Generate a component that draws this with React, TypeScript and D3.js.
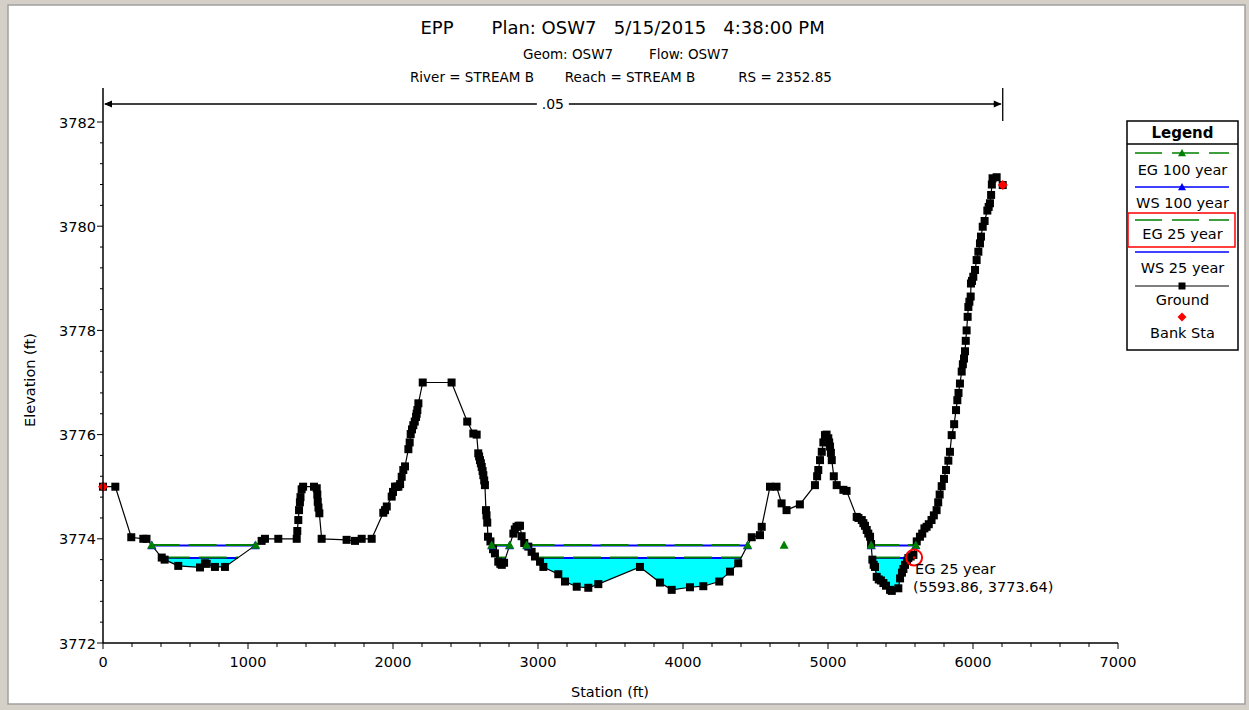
import React from "react";
import * as d3 from "d3";

// ---------- DATA ----------
const groundStation = [
  0, 85, 195, 278, 300, 405, 425, 519, 669, 703, 715, 772, 841, 1094, 1117, 1209, 1336, 1340, 1347, 1352,
  1358, 1362, 1370, 1380, 1455, 1474, 1478, 1481, 1486, 1492, 1508, 1680, 1738, 1784, 1853, 1933, 1945,
  1957, 1991, 2000, 2014, 2025, 2037, 2049, 2060, 2071, 2083, 2106, 2115, 2122, 2131, 2140, 2150, 2159,
  2163, 2168, 2175, 2205, 2404, 2512, 2554, 2577, 2588, 2594, 2600, 2606, 2612, 2618, 2623, 2629, 2634,
  2641, 2645, 2650, 2655, 2672, 2690, 2703, 2726, 2740, 2750, 2766, 2830, 2840, 2852, 2866, 2876, 2887,
  2905, 2933, 2956, 2979, 3014, 3037, 3140, 3186, 3267, 3347, 3416, 3703, 3841, 3922, 4048, 4140, 4250,
  4324, 4381, 4474, 4531, 4543, 4600, 4645, 4680, 4714, 4806, 4910, 4925, 4933, 4945, 4957, 4968, 4979,
  4990, 5002, 5008, 5014, 5020, 5026, 5040, 5060, 5106, 5128, 5198, 5210, 5233, 5244, 5255, 5267, 5278,
  5290, 5297, 5306, 5315, 5324, 5336, 5350, 5365, 5382, 5400, 5428, 5440, 5485, 5497, 5510, 5520, 5531,
  5545, 5554, 5570, 5589, 5612, 5634, 5650, 5665, 5680, 5695, 5714, 5730, 5749, 5760, 5770, 5784, 5800,
  5814, 5830, 5841, 5853, 5870, 5883, 5892, 5900, 5910, 5922, 5930, 5938, 5945, 5950, 5956, 5963, 5968,
  5975, 5984, 5986, 5993, 6002, 6014, 6025, 6037, 6048, 6055, 6067, 6080, 6099, 6108, 6117, 6125, 6130,
  6135, 6163, 6205,
];
const groundElev = [
  3775.0, 3775.0, 3774.03, 3774.0, 3774.0, 3773.64, 3773.6, 3773.48, 3773.45, 3773.53, 3773.52, 3773.46,
  3773.46, 3773.96, 3774.0, 3774.0, 3774.0, 3774.15, 3774.36, 3774.55, 3774.7, 3774.8, 3774.95, 3775.0,
  3775.0, 3774.97, 3774.85, 3774.71, 3774.6, 3774.49, 3774.0, 3773.98, 3773.96, 3774.0, 3774.0, 3774.5,
  3774.55, 3774.62, 3774.81, 3774.9, 3775.0, 3775.0, 3775.0, 3775.05, 3775.19, 3775.32, 3775.39, 3775.72,
  3775.85, 3776.01, 3776.1, 3776.18, 3776.25, 3776.34, 3776.4, 3776.47, 3776.6, 3777.0, 3777.0, 3776.25,
  3776.02, 3776.0, 3775.64, 3775.58, 3775.51, 3775.45, 3775.38, 3775.3, 3775.22, 3775.12, 3775.03,
  3774.55, 3774.45, 3774.31, 3774.04, 3773.95, 3773.8, 3773.72, 3773.56, 3773.52, 3773.5, 3773.54, 3774.1,
  3774.18, 3774.23, 3774.25, 3774.25, 3774.05, 3773.92, 3773.85, 3773.75, 3773.66, 3773.56, 3773.46,
  3773.32, 3773.18, 3773.08, 3773.06, 3773.13, 3773.46, 3773.16, 3773.02, 3773.07, 3773.09, 3773.18,
  3773.37, 3773.53, 3774.03, 3774.07, 3774.23, 3775.0, 3775.0, 3774.68, 3774.55, 3774.66, 3775.03, 3775.2,
  3775.32, 3775.51, 3775.67, 3775.85, 3775.99, 3776.0, 3775.93, 3775.85, 3775.77, 3775.65, 3775.51,
  3775.2, 3775.03, 3774.94, 3774.92, 3774.42, 3774.4, 3774.36, 3774.3, 3774.25, 3774.17, 3774.1, 3774.04,
  3773.9, 3773.6, 3773.5, 3773.46, 3773.27, 3773.22, 3773.2, 3773.15, 3773.1, 3773.02, 3773.0, 3773.05,
  3773.24, 3773.35, 3773.42, 3773.5, 3773.58, 3773.63, 3773.66, 3773.69, 3773.95, 3774.04, 3774.1,
  3774.2, 3774.23, 3774.28, 3774.36, 3774.45, 3774.55, 3774.7, 3774.85, 3775.01, 3775.15, 3775.32,
  3775.5, 3775.67, 3775.99, 3776.2, 3776.47, 3776.66, 3776.8, 3776.98, 3777.21, 3777.35, 3777.46,
  3777.6, 3777.8, 3778.0, 3778.26, 3778.45, 3778.55, 3778.65, 3778.9, 3778.95, 3779.03, 3779.16,
  3779.35, 3779.51, 3779.67, 3779.8, 3779.99, 3780.1, 3780.3, 3780.37, 3780.44, 3780.6, 3780.8, 3780.92,
  3780.94, 3780.79,
];
const bankStations = [0, 6205];
const bankElevations = [3775.0, 3780.79];

const profileNames = ["EG 100 year", "WS 100 year", "EG 25 year", "WS 25 year"];
const profileElev = [3773.88, 3773.87, 3773.64, 3773.63];
const egIsolatedStation = [4697];

const manningN = [".05"];
const manningStations = [0, 6205];

const xTicks = [0, 1000, 2000, 3000, 4000, 5000, 6000, 7000];
const yTicks = [3772, 3774, 3776, 3778, 3780, 3782];

const titleLine = ["EPP", "Plan: OSW7", "5/15/2015", "4:38:00 PM"];
const subtitle1 = ["Geom: OSW7", "Flow: OSW7"];
const subtitle2 = ["River = STREAM B", "Reach = STREAM B", "RS = 2352.85"];

const legendItems = ["EG 100 year", "WS 100 year", "EG 25 year", "WS 25 year", "Ground", "Bank Sta"];

const tooltipName = "EG 25 year";
const tooltipStation = 5593.86;
const tooltipElev = 3773.64;

// ---------- LAYOUT ----------
const W = 1249;
const H = 710;
const FONT = "'DejaVu Sans', Verdana, sans-serif";

const x = d3.scaleLinear().domain([0, 7000]).range([103, 1118]);
const y = d3.scaleLinear().domain([3772, 3782]).range([643, 122]);
const axisTop = 88;

const ground = groundStation.map((s, i) => ({ s, e: groundElev[i] }));

function wetSegments(level: number): [number, number][] {
  const segs: [number, number][] = [];
  let start: number | null = ground[0].e < level ? ground[0].s : null;
  for (let i = 1; i < ground.length; i++) {
    const a = ground[i - 1];
    const b = ground[i];
    const aw = a.e < level;
    const bw = b.e < level;
    if (aw !== bw) {
      const t = (level - a.e) / (b.e - a.e);
      const sc = a.s + t * (b.s - a.s);
      if (bw) start = sc;
      else if (start !== null) {
        segs.push([start, sc]);
        start = null;
      }
    }
  }
  return segs;
}

const triPath = (cx: number, cy: number, r = 4.5) =>
  `M${cx},${cy - r}L${cx + r},${cy + r * 0.8}L${cx - r},${cy + r * 0.8}Z`;
const diamondPath = (cx: number, cy: number, r = 5) =>
  `M${cx},${cy - r}L${cx + r},${cy}L${cx},${cy + r}L${cx - r},${cy}Z`;

export default function App() {
  const groundLine = d3
    .line<{ s: number; e: number }>()
    .x((d) => x(d.s))
    .y((d) => y(d.e))(ground) as string;

  const abovePoly =
    `M${x(ground[0].s)},${axisTop - 50}` +
    ground.map((d) => `L${x(d.s)},${y(d.e)}`).join("") +
    `L${x(ground[ground.length - 1].s)},${axisTop - 50}Z`;

  const fillLevel = profileElev[3];
  const fillSegs = wetSegments(fillLevel);

  const colors = ["#008000", "#0000ff", "#008000", "#0000ff"];
  const dashes = ["28 9", undefined, "28 9", undefined];
  const drawOrder = [1, 0, 3, 2];

  const mid = (x(manningStations[0]) + x(manningStations[1])) / 2;

  const legendX = 1127;
  const legendW = 111;
  const lineX0 = 1135;
  const lineX1 = 1229;
  const lineYs = [153, 187, 220, 252, 286, 317];
  const labelYs = [175, 208, 239, 273, 305, 338];

  return (
    <svg
      width={W}
      height={H}
      style={{ position: "absolute", left: 0, top: 0, fontFamily: FONT }}
    >
      <defs>
        <clipPath id="aboveGround">
          <path d={abovePoly} />
        </clipPath>
      </defs>
      {/* window frame */}
      <rect x={0} y={0} width={W} height={H} fill="#d4d0c8" />
      <rect x={8} y={5} width={1237} height={699} fill="#ffffff" stroke="#a0a0a0" strokeWidth={1.5} />

      {/* titles */}
      <g fontSize={18} fill="#000" textAnchor="middle">
        <text x={437} y={34}>{titleLine[0]}</text>
        <text x={544} y={34}>{titleLine[1]}</text>
        <text x={660} y={34}>{titleLine[2]}</text>
        <text x={774} y={34}>{titleLine[3]}</text>
      </g>
      <g fontSize={13.5} fill="#000" textAnchor="middle">
        <text x={568} y={59}>{subtitle1[0]}</text>
        <text x={689} y={59}>{subtitle1[1]}</text>
        <text x={472} y={82}>{subtitle2[0]}</text>
        <text x={630} y={82}>{subtitle2[1]}</text>
        <text x={785} y={82}>{subtitle2[2]}</text>
      </g>

      {/* Manning's n arrow */}
      <g stroke="#000" strokeWidth={1.3}>
        <line x1={x(manningStations[0]) + 2} x2={mid - 16} y1={104} y2={104} />
        <line x1={mid + 16} x2={x(manningStations[1]) - 2} y1={104} y2={104} />
        <line x1={x(manningStations[1])} x2={x(manningStations[1])} y1={axisTop} y2={121} />
      </g>
      <path d={`M${x(0) + 1},104L${x(0) + 9},100.5L${x(0) + 9},107.5Z`} fill="#000" />
      <path
        d={`M${x(manningStations[1]) - 1},104L${x(manningStations[1]) - 9},100.5L${x(manningStations[1]) - 9},107.5Z`}
        fill="#000"
      />
      <text x={mid} y={109} fontSize={14} textAnchor="middle">{manningN[0]}</text>

      {/* water fill */}
      <g clipPath="url(#aboveGround)">
        {fillSegs.map(([a, b], i) => (
          <rect
            key={i}
            x={x(a)}
            y={y(fillLevel)}
            width={x(b) - x(a)}
            height={y(3772) - y(fillLevel)}
            fill="#00ffff"
          />
        ))}
      </g>

      {/* profile lines */}
      {drawOrder.map((pi) => {
        const segs = wetSegments(profileElev[pi]);
        return (
          <g key={pi}>
            {segs.map(([a, b], i) => (
              <line
                key={i}
                x1={x(a)}
                x2={x(b)}
                y1={y(profileElev[pi])}
                y2={y(profileElev[pi])}
                stroke={colors[pi]}
                strokeWidth={2}
                strokeDasharray={dashes[pi]}
              />
            ))}
          </g>
        );
      })}

      {/* ground */}
      <path d={groundLine} fill="none" stroke="#000" strokeWidth={1.2} />
      {ground.map((d, i) => (
        <rect key={i} x={x(d.s) - 4} y={y(d.e) - 4} width={8} height={8} fill="#000" />
      ))}

      {/* 100-year markers */}
      {[1, 0].map((pi) => {
        const segs = wetSegments(profileElev[pi]);
        const pts = segs.flat();
        if (pi === 0) pts.push(...egIsolatedStation);
        return pts.map((s, i) => (
          <path key={`${pi}-${i}`} d={triPath(x(s), y(profileElev[pi]))} fill={colors[pi]} />
        ));
      })}

      {/* bank stations */}
      {bankStations.map((s, i) => (
        <path key={i} d={diamondPath(x(s), y(bankElevations[i]))} fill="#ff0000" />
      ))}

      {/* axes */}
      <g stroke="#000">
        <line x1={x(0)} x2={x(0)} y1={axisTop} y2={y(3772)} strokeWidth={1.5} />
        <line x1={x(0)} x2={x(7000)} y1={y(3772)} y2={y(3772)} strokeWidth={1.5} />
        {d3.range(0, 26).map((i) => {
          const v = 3772 + i * 0.4;
          const major = Math.abs(v - Math.round(v / 2) * 2) < 1e-6;
          return (
            <line key={`yt${i}`} x1={x(0) - (major ? 6 : 3)} x2={x(0)} y1={y(v)} y2={y(v)} strokeWidth={1} />
          );
        })}
        {d3.range(0, 36).map((i) => {
          const v = i * 200;
          const major = v % 1000 === 0;
          return (
            <line key={`xt${i}`} x1={x(v)} x2={x(v)} y1={y(3772)} y2={y(3772) + (major ? 6 : 4)} strokeWidth={1} />
          );
        })}
      </g>
      <g fontSize={14.5} fill="#000">
        {yTicks.map((t) => (
          <text key={t} x={96} y={y(t) + 5.5} textAnchor="end">{t}</text>
        ))}
        {xTicks.map((t) => (
          <text key={t} x={x(t)} y={667} textAnchor="middle">{t}</text>
        ))}
        <text x={610} y={697} textAnchor="middle">Station (ft)</text>
        <text transform="translate(35,380) rotate(-90)" textAnchor="middle">Elevation (ft)</text>
      </g>

      {/* tooltip */}
      <circle cx={x(tooltipStation)} cy={y(tooltipElev)} r={8} fill="none" stroke="#ff0000" strokeWidth={2} />
      <circle cx={x(tooltipStation)} cy={y(tooltipElev)} r={1.2} fill="#ff0000" />
      <g fontSize={14.5} fill="#000">
        <text x={915} y={574}>{tooltipName}</text>
        <text x={913} y={592}>{`(${tooltipStation}, ${tooltipElev})`}</text>
      </g>

      {/* legend */}
      <rect x={legendX} y={121} width={legendW} height={229} fill="#fff" stroke="#000" strokeWidth={1.5} />
      <line x1={legendX} x2={legendX + legendW} y1={144} y2={144} stroke="#000" strokeWidth={1.5} />
      <text x={legendX + legendW / 2} y={138} fontSize={15} fontWeight="bold" textAnchor="middle">Legend</text>
      <rect x={1128} y={213} width={107} height={34} fill="none" stroke="#ff0000" strokeWidth={1.5} />
      {legendItems.map((name, i) => (
        <text key={name} x={legendX + legendW / 2} y={labelYs[i]} fontSize={14.5} textAnchor="middle">{name}</text>
      ))}
      {[0, 1, 2, 3].map((pi) => (
        <line
          key={pi}
          x1={lineX0}
          x2={lineX1}
          y1={lineYs[pi]}
          y2={lineYs[pi]}
          stroke={colors[pi]}
          strokeWidth={pi % 2 === 1 ? 1.5 : 1.3}
          strokeDasharray={pi % 2 === 0 ? "27 10" : undefined}
        />
      ))}
      <path d={triPath((lineX0 + lineX1) / 2, lineYs[0], 4)} fill={colors[0]} />
      <path d={triPath((lineX0 + lineX1) / 2, lineYs[1], 4)} fill={colors[1]} />
      <line x1={lineX0} x2={lineX1} y1={lineYs[4]} y2={lineYs[4]} stroke="#000" strokeWidth={1} />
      <rect x={(lineX0 + lineX1) / 2 - 3.5} y={lineYs[4] - 3.5} width={7} height={7} fill="#000" />
      <path d={diamondPath((lineX0 + lineX1) / 2, lineYs[5], 4.5)} fill="#ff0000" />
    </svg>
  );
}
